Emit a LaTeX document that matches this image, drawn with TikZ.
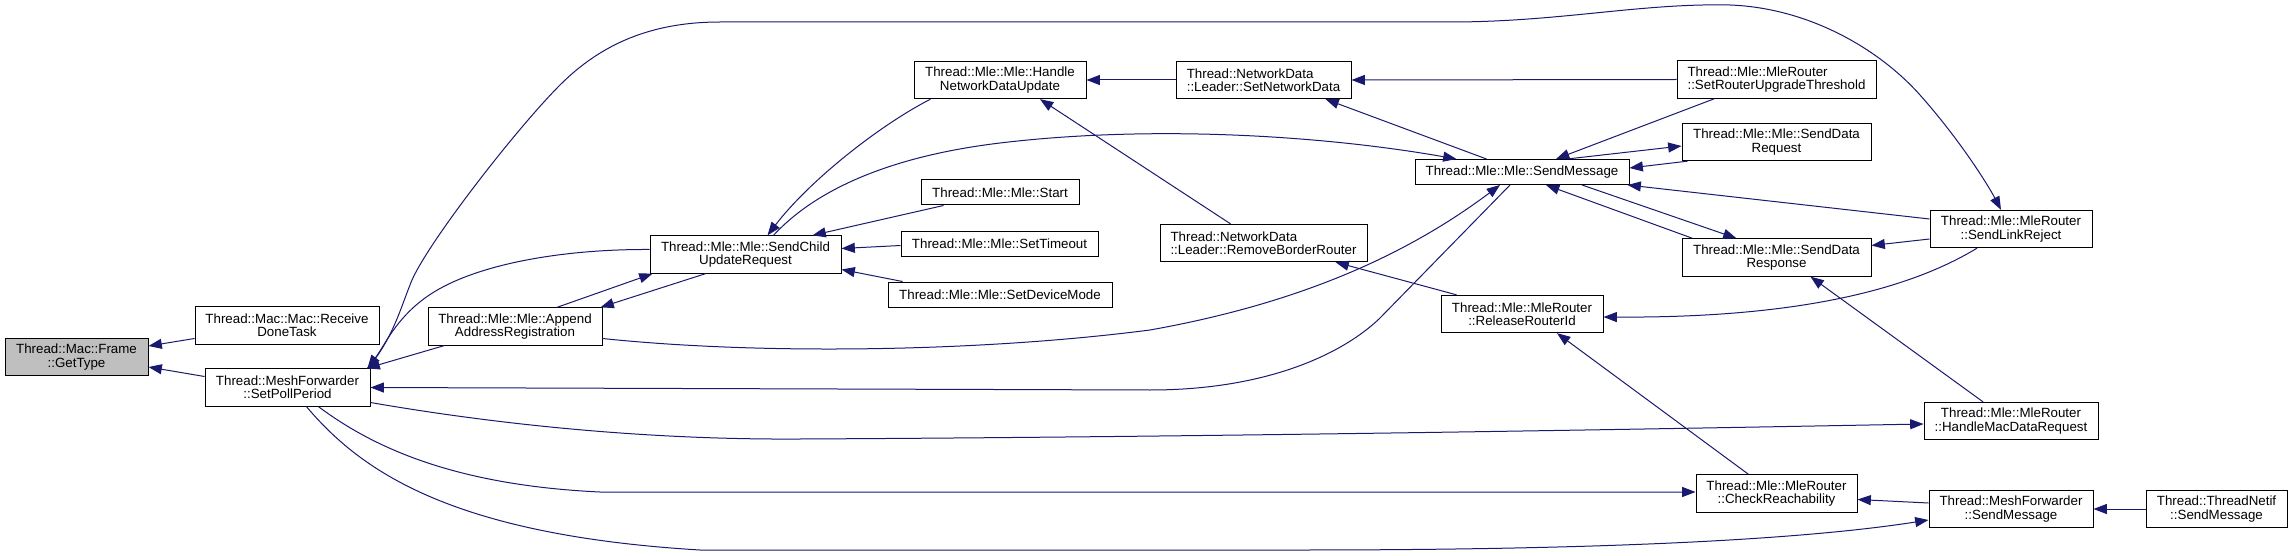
\documentclass[tikz,border=0pt]{standalone}
\usepackage{fontspec}
\setmainfont{Liberation Sans}
\usetikzlibrary{arrows.meta,calc}
\definecolor{edgeblue}{HTML}{191970}
\definecolor{rootgray}{HTML}{BFBFBF}
\begin{document}
\begin{tikzpicture}[x=0.75pt,y=-0.75pt,
  fnode/.style={draw=black, line width=0.75pt, fill=white, inner sep=0pt,
    font=\fontsize{10}{10}\selectfont, align=center, minimum height=28pt},
  fone/.style={fnode, minimum height=18.75pt},
  callarrow/.style={draw=edgeblue, line width=0.75pt, -{Triangle[length=10pt,width=7.5pt]}}]
\useasboundingbox[fill=white] (0,0) rectangle (2292,556);
% nodes
\node[fnode, fill=rootgray, minimum width=107.25pt] (gettype) at (76.5,357) {Thread::Mac::Frame\\::GetType};
\node[fnode, minimum width=138pt] (rdt) at (287,325.5) {Thread::Mac::Mac::Receive\\DoneTask};
\node[fnode, minimum width=123.75pt] (spp) at (287.5,387.5) {Thread::MeshForwarder\\::SetPollPeriod};
\node[fnode, minimum width=130.5pt] (aar) at (515,326.5) {Thread::Mle::Mle::Append\\AddressRegistration};
\node[fnode, minimum width=143.25pt] (scur) at (745.5,254.5) {Thread::Mle::Mle::SendChild\\UpdateRequest};
\node[fnode, minimum width=129pt] (hndu) at (1000,80) {Thread::Mle::Mle::Handle\\NetworkDataUpdate};
\node[fone, minimum width=118.5pt] (start) at (1000,192.5) {Thread::Mle::Mle::Start};
\node[fone, minimum width=147.75pt] (settimeout) at (999.5,243.5) {Thread::Mle::Mle::SetTimeout};
\node[fone, minimum width=168pt] (setdevmode) at (1000,294.5) {Thread::Mle::Mle::SetDeviceMode};
\node[fnode, align=left, minimum width=131.25pt] (snd) at (1263.5,80) {Thread::NetworkData\\::Leader::SetNetworkData};
\node[fnode, align=left, minimum width=155.25pt] (rbr) at (1263.5,243) {Thread::NetworkData\\::Leader::RemoveBorderRouter};
\node[fone, minimum width=160.5pt] (smsg) at (1522,172) {Thread::Mle::Mle::SendMessage};
\node[fnode, minimum width=121.5pt] (rrid) at (1522,314) {Thread::Mle::MleRouter\\::ReleaseRouterId};
\node[fnode, align=left, minimum width=149.25pt] (ssrut) at (1776.5,79.5) {Thread::Mle::MleRouter\\::SetRouterUpgradeThreshold};
\node[fnode, minimum width=141.75pt] (sdreq) at (1776.5,142) {Thread::Mle::Mle::SendData\\Request};
\node[fnode, minimum width=141.75pt] (sdresp) at (1776.5,257.5) {Thread::Mle::Mle::SendData\\Response};
\node[fnode, minimum width=120.75pt] (cr) at (1776.5,493.5) {Thread::Mle::MleRouter\\::CheckReachability};
\node[fnode, minimum width=121.5pt] (slr) at (2011,229) {Thread::Mle::MleRouter\\::SendLinkReject};
\node[fnode, minimum width=130.5pt] (hmdr) at (2011,421) {Thread::Mle::MleRouter\\::HandleMacDataRequest};
\node[fnode, minimum width=123pt] (mfsm) at (2011,509) {Thread::MeshForwarder\\::SendMessage};
\node[fnode, minimum width=105.75pt] (tnsm) at (2216.5,509) {Thread::ThreadNetif\\::SendMessage};
% edges
\draw[callarrow] ($(rdt.west)+(0,13)$) -- ($(gettype.east)+(0,-11)$);
\draw[callarrow] ($(spp.west)+(0,-11)$) -- ($(gettype.east)+(0,10)$);
\draw[callarrow] ($(aar.south)+(-71,0)$) -- ($(spp.north)+(79,0)$);
\draw[callarrow] ($(scur.west)+(0,-5)$) .. controls (560,249) and (470,265) .. (425,298) .. controls (395,320) and (385,345) .. ($(spp.north)+(80,0)$);
\draw[callarrow] ($(spp.north)+(80,0)$) .. controls (392,340) and (400,310) .. (410,285) .. controls (422,250) and (515,130) .. (560,85) .. controls (600,45) and (650,22) .. (720,22) -- (1450,22) .. controls (1560,22) and (1640,3) .. (1730,5) .. controls (1810,8) and (1880,50) .. (1920,95) .. controls (1960,140) and (1988,185) .. ($(slr.north)+(-10,0)$);
\draw[callarrow] ($(smsg.south)+(-12,0)$) -- (1380,318) .. controls (1345,352) and (1270,390) .. (1150,390) -- (spp.east);
\draw[callarrow] ($(aar.east)+(0,12)$) .. controls (760,355) and (980,352) .. (1150,330) .. controls (1290,305) and (1400,260) .. ($(smsg.south)+(-22,0)$);
\draw[callarrow] ($(spp.east)+(0,15)$) .. controls (500,425) and (650,440) .. (800,439) .. controls (1200,437) and (1600,430) .. ($(hmdr.west)+(0,3)$);
\draw[callarrow] ($(spp.south)+(31,0)$) .. controls (370,445) and (450,485) .. (600,492) -- ($(cr.west)+(0,-1.5)$);
\draw[callarrow] ($(spp.south)+(19,0)$) .. controls (360,470) and (450,535) .. (700,550) -- (1300,550) .. controls (1600,550) and (1800,540) .. ($(mfsm.west)+(0,11)$);
\draw[callarrow] ($(aar.north)+(42,0)$) -- ($(scur.south west)+(3,0)$);
\draw[callarrow] ($(scur.south)+(-40,0)$) -- ($(aar.north east)+(-2,0)$);
\draw[callarrow] ($(hndu.south west)+(17,0)$) .. controls (880,125) and (810,180) .. ($(scur.north)+(22,0)$);
\draw[callarrow] ($(scur.north)+(28,0)$) .. controls (820,185) and (900,155) .. (1000,143) .. controls (1150,125) and (1320,135) .. ($(smsg.north west)+(42,0)$);
\draw[callarrow] ($(start.south west)+(23,0)$) -- ($(scur.north east)+(-29,0)$);
\draw[callarrow] ($(settimeout.west)+(0,2)$) -- ($(scur.east)+(0,-6)$);
\draw[callarrow] ($(setdevmode.north west)+(15,0)$) -- ($(scur.east)+(0,15)$);
\draw[callarrow] (snd.west) -- (hndu.east);
\draw[callarrow] ($(rbr.north)+(-33,0)$) -- ($(hndu.south)+(40,0)$);
\draw[callarrow] (ssrut.west) -- (snd.east);
\draw[callarrow] ($(smsg.north west)+(72,0)$) -- ($(snd.south east)+(-26,0)$);
\draw[callarrow] ($(rrid.north west)+(16,0)$) -- ($(rbr.south east)+(-32,0)$);
\draw[callarrow] ($(ssrut.south west)+(38,0)$) -- ($(smsg.north)+(34,0)$);
\draw[callarrow] ($(smsg.north)+(45,0)$) -- ($(sdreq.west)+(0,4)$);
\draw[callarrow] ($(sdreq.south west)+(6,0)$) -- ($(smsg.east)+(0,-4)$);
\draw[callarrow] ($(slr.west)+(0,-10)$) -- ($(smsg.south east)+(-2,0)$);
\draw[callarrow] ($(smsg.south)+(60,0)$) -- ($(sdresp.north)+(-40,0)$);
\draw[callarrow] ($(sdresp.north west)+(11,0)$) -- ($(smsg.south)+(24,0)$);
\draw[callarrow] ($(slr.west)+(0,10)$) -- ($(sdresp.east)+(0,-12)$);
\draw[callarrow] ($(slr.south)+(-34,0)$) .. controls (1900,295) and (1780,318) .. ($(rrid.east)+(0,3)$);
\draw[callarrow] ($(hmdr.north)+(-28,0)$) -- ($(sdresp.south)+(34,0)$);
\draw[callarrow] ($(cr.north)+(-28,0)$) -- ($(rrid.south)+(35,0)$);
\draw[callarrow] ($(mfsm.west)+(0,-6)$) -- ($(cr.east)+(0,6)$);
\draw[callarrow] (tnsm.west) -- (mfsm.east);
\end{tikzpicture}
\end{document}
